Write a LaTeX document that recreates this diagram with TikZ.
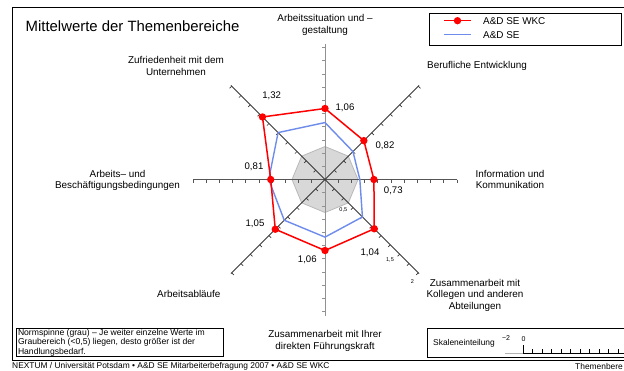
\documentclass[tikz,border=0pt]{standalone}
\usepackage{fontspec}
\setmainfont{Liberation Sans}
\usetikzlibrary{calc}
\definecolor{wkcred}{RGB}{255,0,0}
\definecolor{seblue}{RGB}{110,140,235}
\definecolor{normfill}{RGB}{216,216,216}
\definecolor{normline}{RGB}{185,185,185}
\definecolor{axisdark}{RGB}{55,55,55}
\definecolor{axismid}{RGB}{85,85,85}
\definecolor{axislight}{RGB}{145,145,145}
\begin{document}
\begin{tikzpicture}[x=1pt,y=-1pt,
  lbl/.style={font=\fontsize{9.9}{11.5}\selectfont, align=center, inner sep=0pt},
  val/.style={font=\fontsize{9.6}{11}\selectfont, inner sep=0pt},
  small/.style={font=\fontsize{8.4}{9.7}\selectfont, inner sep=0pt},
  notetext/.style={font=\fontsize{8.6}{9.5}\selectfont, inner sep=0pt},
  tinylbl/.style={font=\fontsize{5.5}{6}\selectfont, inner sep=0pt},
  reddot/.style={circle, fill=wkcred, inner sep=0pt, minimum size=7.4pt},
  framebox/.style={line width=0.9pt, draw=black},
  serieswkc/.style={draw=wkcred, line width=1.5pt, line join=round},
  seriesse/.style={draw=seblue, line width=1.4pt, line join=round}]
\useasboundingbox[fill=white] (0,0) rectangle (624,370);

% outer frame
\draw[framebox] (624,7.3) -| (12.7,360.7) -- (624,360.7);

% title
\node[anchor=west, font=\fontsize{14.9}{17}\selectfont, inner sep=0pt] (title) at (25.5,26) {Mittelwerte der Themenbereiche};

% legend
\draw[line width=0.8pt] (429,13) rectangle (621,45);
\coordinate (lr1) at (444,20.7);
\coordinate (lr2) at (471,20.7);
\coordinate (lb1) at (444,34.7);
\coordinate (lb2) at (471,34.7);
\draw[serieswkc] (lr1) -- (lr2);
\node[reddot] (legdot) at (457.5,20.7) {};
\draw[seriesse] (lb1) -- (lb2);
\node[lbl, anchor=west] (legwkc) at (483,20.7) {A\&D SE WKC};
\node[lbl, anchor=west] (legse) at (483,34.7) {A\&D SE};

% radar
\begin{scope}[shift={(325,179.5)}, y=1pt]
  \coordinate (O) at (0,0);
  \filldraw[fill=normfill, draw=normline, line width=0.8pt]
    (0:33) -- (45:33) -- (90:33) -- (135:33) -- (180:33) -- (225:33) -- (270:33) -- (315:33) -- cycle;
  % axes: angle / colour / half length / tick direction
  \foreach \a/\col/\len/\td in {0/axismid/132/-90, 90/axislight/136/180, 45/axisdark/133/-45, -45/axisdark/133/-135} {
    \draw[draw=\col, line width=0.9pt] ({\a+180}:\len) -- (\a:\len);
    \foreach \k in {-10,...,-1,1,2,...,10}
      \draw[draw=\col, line width=0.7pt] (\a:{\k*13.2}) -- ++(\td:3);
  }
  \foreach \a/\v/\i in {90/1.06/1, 45/0.82/2, 0/0.73/3, -45/1.04/4, -90/1.06/5, -135/1.05/6, 180/0.81/7, 135/1.32/8}
    \coordinate (w\i) at (\a:{\v*67});
  \foreach \a/\v/\i in {90/0.85/1, 45/0.59/2, 0/0.52/3, -45/0.79/4, -90/0.86/5, -135/0.86/6, 180/0.84/7, 135/0.99/8}
    \coordinate (b\i) at (\a:{\v*67});
  \draw[seriesse] (b1) -- (b2) -- (b3) -- (b4) -- (b5) -- (b6) -- (b7) -- (b8) -- cycle;
  \draw[serieswkc] (w1) -- (w2) -- (w3) -- (w4) -- (w5) -- (w6) -- (w7) -- (w8) -- cycle;
  \foreach \i in {1,...,8}
    \node[reddot] (d\i) at (w\i) {};
\end{scope}

% value labels
\node[val] (v1) at (345,107.7) {1,06};
\node[val] (v2) at (385,145.7) {0,82};
\node[val] (v3) at (393.3,191) {0,73};
\node[val] (v4) at (370,252.3) {1,04};
\node[val] (v5) at (307.3,260) {1,06};
\node[val] (v6) at (255,224) {1,05};
\node[val] (v7) at (254,166.7) {0,81};
\node[val] (v8) at (271.7,95.7) {1,32};

% scale labels on the axis
\node[tinylbl] (t05) at (343.3,210) {0,5};
\node[tinylbl] (t15) at (390,260) {1,5};
\node[tinylbl] (t2) at (412.3,281.7) {2};

% category labels
\node[lbl] (c1) at (325,25) {Arbeitssituation und –\\gestaltung};
\node[lbl, anchor=west] (c2) at (427,66) {Berufliche Entwicklung};
\node[lbl] (c3) at (510,179.5) {Information und\\Kommunikation};
\node[lbl] (c4) at (475,295) {Zusammenarbeit mit\\Kollegen und anderen\\Abteilungen};
\node[lbl] (c5) at (325,341) {Zusammenarbeit mit Ihrer\\direkten Führungskraft};
\node[lbl, anchor=west] (c6) at (157,294) {Arbeitsabläufe};
\node[lbl] (c7) at (117.5,180.5) {Arbeits– und\\Beschäftigungsbedingungen};
\node[lbl] (c8) at (176,66) {Zufriedenheit mit dem\\Unternehmen};

% note box
\draw[line width=0.8pt] (16,328) rectangle (223,356.5);
\node[notetext, anchor=west, align=left] (note) at (17.8,342.6)
  {Normspinne (grau) – Je weiter einzelne Werte im\\Graubereich (<0,5) liegen, desto größer ist der\\Handlungsbedarf.};

% scale box
\draw[line width=0.8pt] (624,328) -| (427,357) -- (624,357);
\node[small, anchor=west] (skala) at (433,343.3) {Skaleneinteilung};
\node[font=\fontsize{7}{8}\selectfont, inner sep=0pt] (sm2) at (506,338.5) {−2};
\node[font=\fontsize{7}{8}\selectfont, inner sep=0pt] (s0) at (523.5,339) {0};
\coordinate (sa) at (505,353);
\coordinate (sz) at (523,353);
\coordinate (se) at (624,353);
\draw[draw=black!30, line width=0.7pt] (sa) -- (sz);
\draw[line width=0.8pt] (sz) -- (se);
\draw[line width=0.8pt] (sz) -- ++(0,-8);
\foreach \k in {1,...,10}
  \draw[line width=0.8pt] ($(sz)+(\k*9.5,0)$) -- ++(0,-4.5);

% footer
\node[small, anchor=west] (foot) at (12,366) {NEXTUM / Universität Potsdam • A\&D SE Mitarbeiterbefragung 2007 • A\&D SE WKC};
\node[small, anchor=west] (footr) at (575,366) {Themenbere};
\end{tikzpicture}
\end{document}
